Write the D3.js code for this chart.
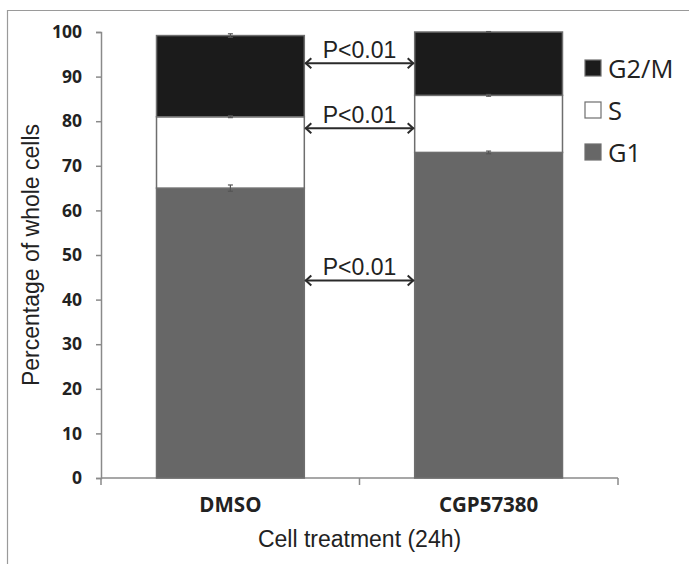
<!DOCTYPE html>
<html>
<head>
<meta charset="utf-8">
<script src="https://cdn.jsdelivr.net/npm/d3@7"></script>
<style>
  body { margin: 0; background: #fff; }
</style>
</head>
<body>
<div id="chart"></div>
<script>
// data
const treatments = ["DMSO", "CGP57380"];
const phases = ["G1", "S", "G2/M"];
const g1Values = [65.0, 73.0];
const sValues = [16.0, 12.8];
const g2mValues = [18.2, 14.2];
const g1Err = [0.7, 0.3];
const sErr = [0.2, 0.2];
const g2mErr = [0.4, 0.1];
const yTicks = [0, 10, 20, 30, 40, 50, 60, 70, 80, 90, 100];
const pLevels = [93.0, 78.4, 44.3];   // heights of the "P<0.01" arrows
const pLabel = "P<0.01";

const phaseColor = {"G1": "#676767", "S": "#ffffff", "G2/M": "#1b1b1b"};

const width = 689, height = 564;
const margin = {top: 32, right: 71, bottom: 86, left: 101};
const innerWidth = width - margin.left - margin.right;
const innerHeight = height - margin.top - margin.bottom;

// build stacked table
const rows = treatments.map((t, i) => ({
  treatment: t,
  "G1": g1Values[i], "S": sValues[i], "G2/M": g2mValues[i],
  err: {"G1": g1Err[i], "S": sErr[i], "G2/M": g2mErr[i]}
}));
const stacked = d3.stack().keys(phases)(rows);

const svg = d3.select("#chart").append("svg")
  .attr("width", width)
  .attr("height", height);

// outer frame (top and left edges visible)
svg.append("path")
  .attr("d", `M7.5,${height} V10.5 H${width}`)
  .attr("fill", "none")
  .attr("stroke", "#9a9a9a")
  .attr("stroke-width", 1.2);

const g = svg.append("g")
  .attr("transform", `translate(${margin.left},${margin.top})`);

const xEnd = 517;
const xScale = d3.scaleBand()
  .domain(treatments)
  .range([0, xEnd])
  .paddingInner(0.4275)
  .paddingOuter(0.215);

const yScale = d3.scaleLinear()
  .domain([0, 100])
  .range([innerHeight, 0]);

// y axis
const yAxisG = g.append("g")
  .call(d3.axisLeft(yScale).tickValues(yTicks).tickSize(5).tickPadding(14));
yAxisG.select(".domain").attr("stroke", "#8a8a8a").attr("stroke-width", 1.5);
yAxisG.selectAll(".tick line").attr("stroke", "#8a8a8a").attr("stroke-width", 1.5);
yAxisG.selectAll("text")
  .attr("font-family", "Open Sans, sans-serif")
  .attr("font-weight", "700")
  .attr("font-size", "17.5px")
  .attr("fill", "#222");

// x axis line with category separators
const xAxisG = g.append("g")
  .attr("transform", `translate(0,${innerHeight})`);
xAxisG.append("path")
  .attr("d", `M0,0 H${xEnd}`)
  .attr("stroke", "#8a8a8a").attr("stroke-width", 1.5);
[0, xEnd / 2, xEnd].forEach(x => {
  xAxisG.append("line")
    .attr("x1", x).attr("x2", x).attr("y1", 0).attr("y2", 7)
    .attr("stroke", "#8a8a8a").attr("stroke-width", 1.5);
});
treatments.forEach(t => {
  xAxisG.append("text")
    .attr("x", xScale(t) + xScale.bandwidth() / 2)
    .attr("y", 34)
    .attr("text-anchor", "middle")
    .attr("font-family", "Open Sans, sans-serif")
    .attr("font-weight", "700")
    .attr("font-size", "20.5px")
    .attr("fill", "#222")
    .text(t);
});

// stacked bars
g.selectAll("g.layer")
  .data(stacked)
  .enter().append("g")
    .attr("class", "layer")
    .attr("fill", d => phaseColor[d.key])
  .selectAll("rect")
  .data(d => d)
  .enter().append("rect")
    .attr("x", d => xScale(d.data.treatment))
    .attr("y", d => yScale(d[1]))
    .attr("width", xScale.bandwidth())
    .attr("height", d => yScale(d[0]) - yScale(d[1]))
    .attr("stroke", "#6e6e6e")
    .attr("stroke-width", 1.5);

// error bars at top of each segment
stacked.forEach(layer => {
  layer.forEach(d => {
    const e = d.data.err[layer.key];
    const cx = xScale(d.data.treatment) + xScale.bandwidth() / 2;
    const eg = g.append("g").attr("stroke", "#555").attr("stroke-width", 1.2);
    eg.append("line")
      .attr("x1", cx).attr("x2", cx)
      .attr("y1", yScale(d[1] - e)).attr("y2", yScale(d[1] + e));
    [d[1] - e, d[1] + e].forEach(v => {
      eg.append("line")
        .attr("x1", cx - 2.5).attr("x2", cx + 2.5)
        .attr("y1", yScale(v)).attr("y2", yScale(v));
    });
  });
});

// significance arrows between bars
const x1 = xScale(treatments[0]) + xScale.bandwidth();
const x2 = xScale(treatments[1]);
pLevels.forEach(v => {
  const y = yScale(v);
  const ag = g.append("g").attr("stroke", "#2a2a2a").attr("stroke-width", 2).attr("fill", "none");
  ag.append("line").attr("x1", x1 + 1).attr("x2", x2 - 1).attr("y1", y).attr("y2", y);
  ag.append("path").attr("d", `M${x1 + 7},${y - 5} L${x1 + 1.5},${y} L${x1 + 7},${y + 5}`);
  ag.append("path").attr("d", `M${x2 - 7},${y - 5} L${x2 - 1.5},${y} L${x2 - 7},${y + 5}`);
  g.append("text")
    .attr("x", (x1 + x2) / 2)
    .attr("y", y - 5)
    .attr("text-anchor", "middle")
    .attr("font-family", "Liberation Sans, Arial, sans-serif")
    .attr("font-size", "23px")
    .attr("fill", "#222")
    .text(pLabel);
});

// legend
const legendItems = phases.slice().reverse();
const legend = svg.append("g")
  .attr("transform", "translate(585,60)");
legendItems.forEach((p, i) => {
  const row = legend.append("g").attr("transform", `translate(0,${i * 42})`);
  row.append("rect")
    .attr("x", 0).attr("y", 0)
    .attr("width", 16).attr("height", 16)
    .attr("fill", phaseColor[p])
    .attr("stroke", "#6e6e6e")
    .attr("stroke-width", 1.2);
  row.append("text")
    .attr("x", 23).attr("y", 18)
    .attr("font-family", "Open Sans, sans-serif")
    .attr("font-size", "25.5px")
    .attr("fill", "#222")
    .text(p);
});

// axis titles
svg.append("text")
  .attr("transform", `translate(39,${margin.top + innerHeight / 2}) rotate(-90)`)
  .attr("text-anchor", "middle")
  .attr("font-family", "Liberation Sans, Arial, sans-serif")
  .attr("font-size", "23px")
  .attr("fill", "#222")
  .text("Percentage of whole cells");

svg.append("text")
  .attr("x", margin.left + xEnd / 2)
  .attr("y", 547)
  .attr("text-anchor", "middle")
  .attr("font-family", "Liberation Sans, Arial, sans-serif")
  .attr("font-size", "23px")
  .attr("fill", "#222")
  .text("Cell treatment (24h)");
</script>
</body>
</html>
